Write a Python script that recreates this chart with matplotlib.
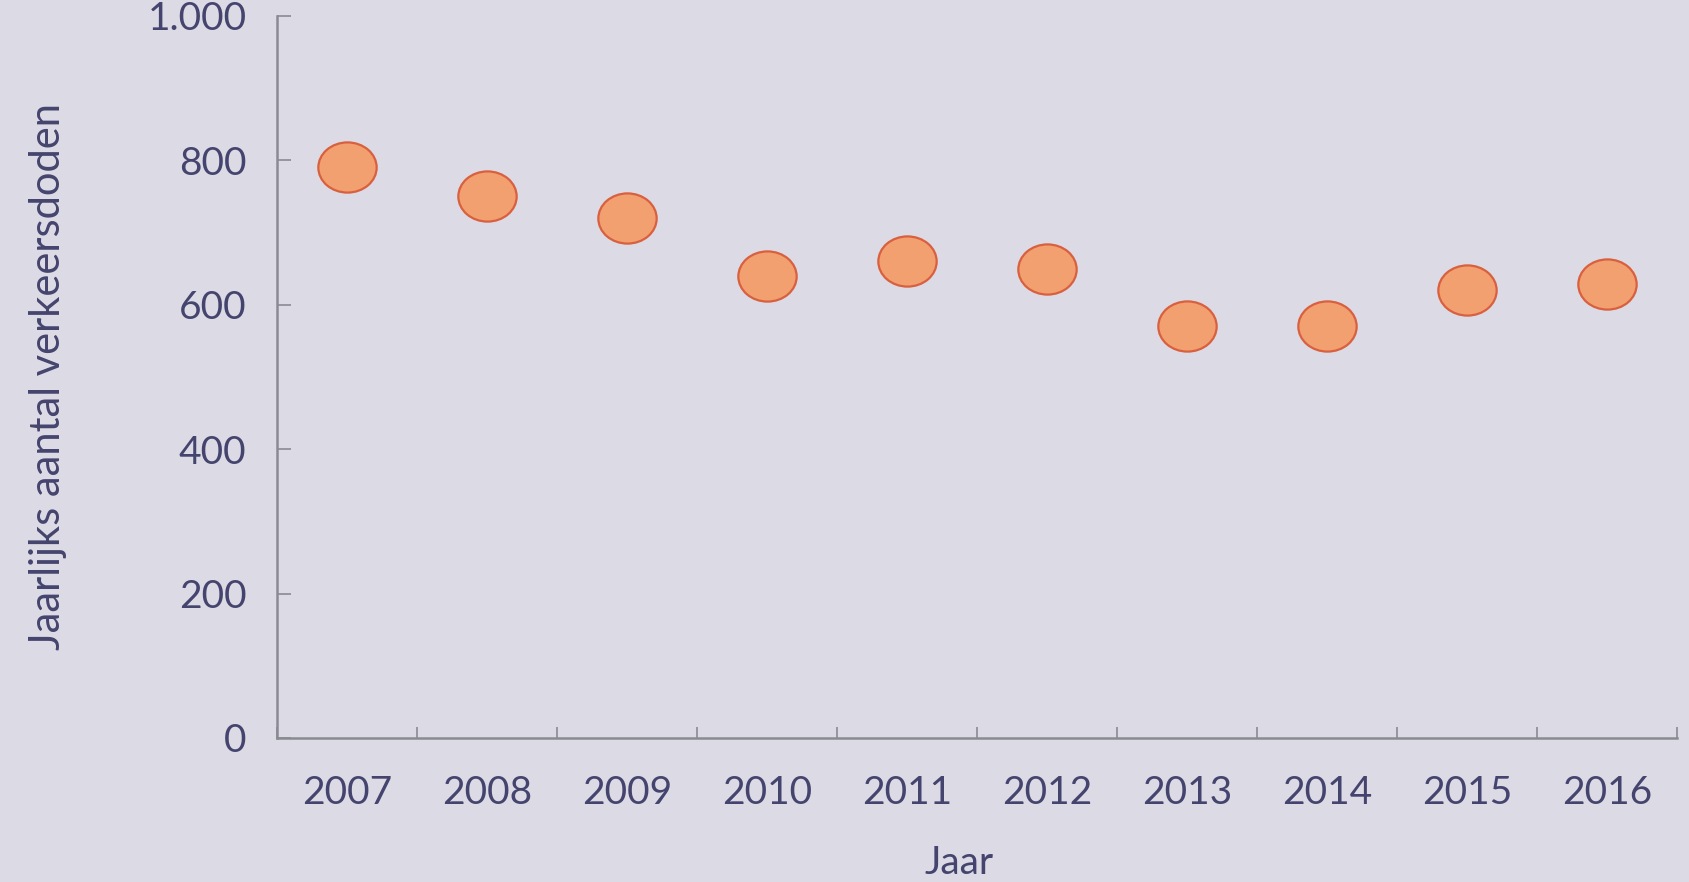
import matplotlib
matplotlib.use("Agg")
import matplotlib.pyplot as plt
import numpy as np
from matplotlib.path import Path
from matplotlib.transforms import Affine2D
from matplotlib.ticker import FuncFormatter

# traffic deaths per year
years = ['2007', '2008', '2009', '2010', '2011', '2012', '2013', '2014', '2015', '2016']
deaths = [791, 750, 720, 640, 661, 650, 570, 570, 621, 629]
y_ticks = [0, 200, 400, 600, 800, 1000]

bg = "#dcdbe5"
txt = "#44446e"
axc = "#8a8a92"

plt.rcParams['font.family'] = ['Lato', 'DejaVu Sans']

fig = plt.figure(figsize=(16.9, 8.82), dpi=100)
fig.patch.set_facecolor(bg)
ax = fig.add_axes([0.1639, 0.1633, 0.9923 - 0.1639, 0.9819 - 0.1633])
ax.set_facecolor(bg)

# slightly wide ellipse marker, like the reference
ell = Affine2D().scale(1.0, 0.86).transform_path(Path.unit_circle())

x = np.arange(len(years)) + 0.5
ax.plot(x, deaths, linestyle='none', marker=ell, markersize=42,
        markerfacecolor="#f2a070", markeredgecolor="#d9603f", markeredgewidth=1.6)

ax.set_xlim(0, len(years))
ax.set_ylim(0, 1000)

ax.set_xticks(np.arange(len(years) + 1))
ax.set_xticklabels([])
ax.set_xticks(x, minor=True)
ax.set_xticklabels(years, minor=True)
ax.tick_params(axis='x', which='major', direction='in', length=8, width=1.2, color=axc)
ax.tick_params(axis='x', which='minor', length=0, pad=27, labelsize=28, labelcolor=txt)

ax.set_yticks(y_ticks)
ax.yaxis.set_major_formatter(FuncFormatter(lambda v, p: f"{int(v):,}".replace(",", ".")))
ax.tick_params(axis='y', direction='in', length=10, width=1.2, color=axc, pad=22,
               labelsize=28, labelcolor=txt)

for s in ['top', 'right']:
    ax.spines[s].set_visible(False)
for s in ['left', 'bottom']:
    ax.spines[s].set_color(axc)
    ax.spines[s].set_linewidth(1.8)

ax.set_ylabel("Jaarlijks aantal verkeersdoden", fontsize=30, color=txt, labelpad=58)
ax.set_xlabel("Jaar", fontsize=28, color=txt, labelpad=24, x=0.487)

fig.savefig("out.png", dpi=100, facecolor=bg)
